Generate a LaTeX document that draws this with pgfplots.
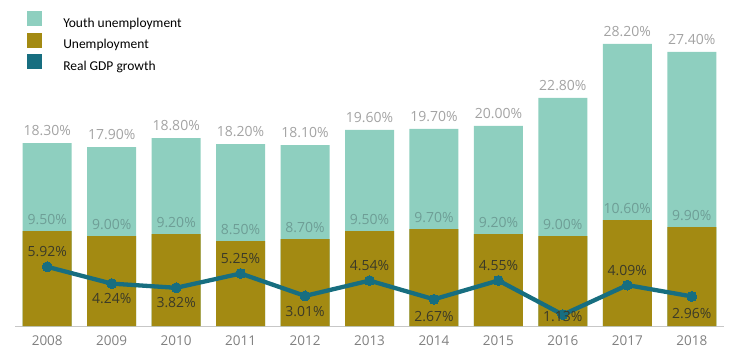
\documentclass[border=0pt]{standalone}
\usepackage{fontspec}
\setmainfont{Open Sans}
\newfontfamily\legfont{Carlito}
\usepackage{pgfplots}
\usepackage{pgfplotstable}
\pgfplotsset{compat=1.18}
\definecolor{youth}{HTML}{8ECFBF}
\definecolor{unemp}{HTML}{A38A12}
\definecolor{gdp}{HTML}{176E80}
\definecolor{youthlab}{HTML}{A3A3A3}
\definecolor{unemplab}{HTML}{6E9E96}
\definecolor{gdplab}{HTML}{3B3A28}
\definecolor{ticklab}{HTML}{808080}
\pgfplotstableread{
x youth unemp gdp off
0 18.3 9.5 5.92 15
1 17.9 9.0 4.24 -15
2 18.8 9.2 3.82 -15
3 18.2 8.5 5.25 15
4 18.1 8.7 3.01 -16
5 19.6 9.5 4.54 15
6 19.7 9.7 2.67 -17
7 20.0 9.2 4.55 15
8 22.8 9.0 1.13 -2
9 28.2 10.6 4.09 15
10 27.4 9.9 2.96 -17
}\data
\pgfplotsset{
  lbl/.style={nodes near coords={\pgfmathprintnumber[fixed,fixed zerofill,precision=2]{\pgfplotspointmeta}\%},
    nodes near coords style={font=\fontsize{14}{16}\selectfont, anchor=center, inner sep=0pt}},
  sqleg/.style={legend image code/.code={\fill[##1] (0pt,-3pt) rectangle (15pt,12pt);}},
}
\begin{document}
\begin{tikzpicture}[x=1pt,y=1pt]
\useasboundingbox (0,0) rectangle (730,362);
\begin{axis}[
  at={(15pt,36pt)}, anchor=south west,
  scale only axis, width=709pt, height=300pt,
  xmin=-0.5, xmax=10.5, ymin=0, ymax=30,
  axis x line*=bottom, axis y line=none,
  x axis line style={draw=black!22, line width=0.8pt},
  major tick length=0pt,
  xtick={0,...,10},
  xticklabels={2008,2009,2010,2011,2012,2013,2014,2015,2016,2017,2018},
  xticklabel style={font=\fontsize{13.5}{15}\selectfont, text=ticklab, yshift=-6pt},
  ytick=\empty,
  clip=false,
  /pgf/number format/assume math mode=true,
  legend style={at={(0.017,1.05)}, anchor=north west, draw=none, fill=none,
    font=\legfont\fontsize{13.5}{15}\selectfont, row sep=3pt, inner sep=0pt,
    nodes={inner xsep=1pt, inner ysep=1pt},
    /tikz/every odd column/.append style={column sep=20pt}},
  legend cell align=left,
]
\addplot[ybar, bar width=49pt, bar shift=0pt, fill=youth, draw=none, sqleg, lbl,
  nodes near coords style={text=youthlab, yshift=12pt}]
  table[x=x, y=youth]{\data};
\addlegendentry{Youth unemployment}
\addplot[ybar, bar width=49pt, bar shift=0pt, fill=unemp, draw=none, sqleg, lbl,
  nodes near coords style={text=unemplab, yshift=11pt}]
  table[x=x, y=unemp]{\data};
\addlegendentry{Unemployment}
\addlegendimage{sqleg, fill=gdp, draw=none}
\addlegendentry{Real GDP growth}
\addplot[draw=gdp, line width=4.3pt, mark=*, mark size=5pt,
  mark options={fill=gdp, draw=gdp, line width=0pt, solid}, lbl,
  point meta=explicit,
  visualization depends on={\thisrow{off}\as\off},
  nodes near coords style={text=gdplab, yshift=\off pt}, forget plot]
  table[x=x, y=gdp, meta=gdp]{\data};
\end{axis}
\end{tikzpicture}
\end{document}
